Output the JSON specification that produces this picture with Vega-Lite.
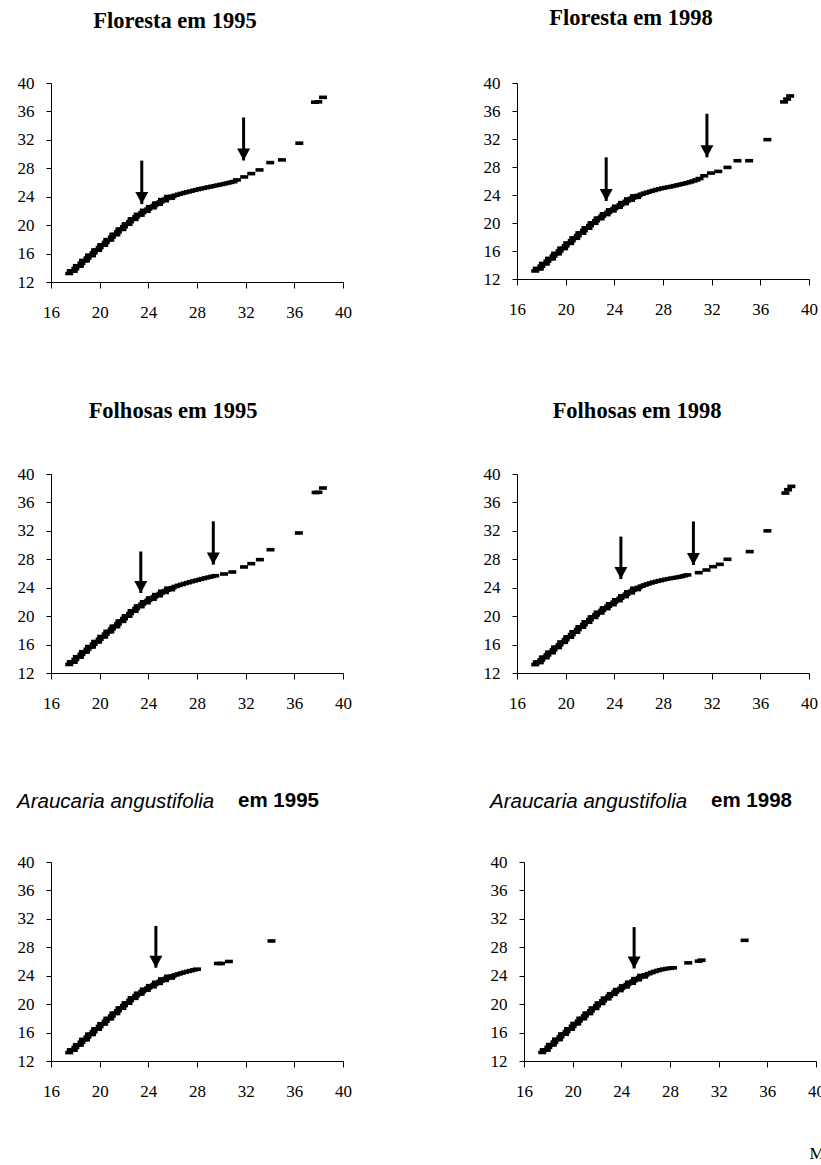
{
"$schema":"https://vega.github.io/schema/vega-lite/v6.json",
"background":"white",
"padding":{"left":17,"top":7,"right":0,"bottom":0},
"config":{
 "view":{"stroke":null},
 "axis":{"grid":false,"domainColor":"black","tickColor":"black","labelColor":"black","labelFont":"Liberation Serif","labelFontSize":17,"domainWidth":1,"tickWidth":1,"labelOverlap":false,"labelFlush":false},
 "axisX":{"tickSize":6,"labelPadding":16,"tickCount":10},
 "axisY":{"tickSize":5,"labelPadding":12,"tickCount":10},
 "title":{"font":"Liberation Serif","fontSize":22.5,"fontWeight":"bold","color":"black"}
},
"datasets":{
"arr":[
 {"p":1,"x":23.46,"y1":29.08,"y2":22.96},{"p":1,"x":31.83,"y1":35.15,"y2":29.1},
 {"p":2,"x":23.33,"y1":29.38,"y2":23.15},{"p":2,"x":31.61,"y1":35.6,"y2":29.38},
 {"p":3,"x":23.38,"y1":29.1,"y2":23.26},{"p":3,"x":29.34,"y1":33.34,"y2":27.25},
 {"p":4,"x":24.54,"y1":31.2,"y2":25.22},{"p":4,"x":30.5,"y1":33.32,"y2":27.2},
 {"p":5,"x":24.62,"y1":31.0,"y2":25.13},
 {"p":6,"x":25.05,"y1":30.84,"y2":25.02}
],
"pts":[
{"p":1,"x":17.5,"y":13.2},{"p":1,"x":17.75,"y":13.55},{"p":1,"x":18.0,"y":13.9},{"p":1,"x":18.25,"y":14.27},{"p":1,"x":18.5,"y":14.63},{"p":1,"x":18.75,"y":15.0},{"p":1,"x":19.0,"y":15.37},{"p":1,"x":19.25,"y":15.74},{"p":1,"x":19.5,"y":16.1},{"p":1,"x":19.75,"y":16.47},{"p":1,"x":20.0,"y":16.84},{"p":1,"x":20.25,"y":17.2},{"p":1,"x":20.5,"y":17.57},{"p":1,"x":20.75,"y":17.94},{"p":1,"x":21.0,"y":18.31},{"p":1,"x":21.25,"y":18.68},{"p":1,"x":21.5,"y":19.05},{"p":1,"x":21.75,"y":19.42},{"p":1,"x":22.0,"y":19.78},{"p":1,"x":22.25,"y":20.14},{"p":1,"x":22.5,"y":20.5},{"p":1,"x":22.75,"y":20.85},{"p":1,"x":23.0,"y":21.17},{"p":1,"x":23.25,"y":21.47},{"p":1,"x":23.5,"y":21.75},{"p":1,"x":23.75,"y":22.02},{"p":1,"x":24.0,"y":22.27},{"p":1,"x":24.25,"y":22.52},{"p":1,"x":24.5,"y":22.77},{"p":1,"x":24.75,"y":23.02},{"p":1,"x":25.0,"y":23.27},{"p":1,"x":25.25,"y":23.52},{"p":1,"x":25.5,"y":23.74},{"p":1,"x":25.75,"y":23.92},{"p":1,"x":26.0,"y":24.07},{"p":1,"x":26.25,"y":24.21},{"p":1,"x":26.5,"y":24.34},{"p":1,"x":26.75,"y":24.46},{"p":1,"x":27.0,"y":24.57},{"p":1,"x":27.25,"y":24.68},{"p":1,"x":27.5,"y":24.79},{"p":1,"x":27.75,"y":24.9},{"p":1,"x":28.0,"y":25.0},{"p":1,"x":28.25,"y":25.1},{"p":1,"x":28.5,"y":25.19},{"p":1,"x":28.75,"y":25.28},{"p":1,"x":29.0,"y":25.37},{"p":1,"x":29.25,"y":25.46},{"p":1,"x":29.5,"y":25.55},{"p":1,"x":29.75,"y":25.64},{"p":1,"x":30.0,"y":25.73},{"p":1,"x":30.25,"y":25.82},{"p":1,"x":30.5,"y":25.92},{"p":1,"x":30.75,"y":26.02},{"p":1,"x":31.0,"y":26.12},
{"p":1,"x":17.625,"y":13.58},{"p":1,"x":17.875,"y":13.53},{"p":1,"x":18.125,"y":14.29},{"p":1,"x":18.375,"y":14.25},{"p":1,"x":18.625,"y":15.02},{"p":1,"x":18.875,"y":14.99},{"p":1,"x":19.125,"y":15.76},{"p":1,"x":19.375,"y":15.72},{"p":1,"x":19.625,"y":16.49},{"p":1,"x":19.875,"y":16.46},{"p":1,"x":20.125,"y":17.22},{"p":1,"x":20.375,"y":17.19},{"p":1,"x":20.625,"y":17.96},{"p":1,"x":20.875,"y":17.93},{"p":1,"x":21.125,"y":18.7},{"p":1,"x":21.375,"y":18.67},{"p":1,"x":21.625,"y":19.44},{"p":1,"x":21.875,"y":19.4},{"p":1,"x":22.125,"y":20.16},{"p":1,"x":22.375,"y":20.12},{"p":1,"x":22.625,"y":20.88},{"p":1,"x":22.875,"y":20.81},{"p":1,"x":23.125,"y":21.52},{"p":1,"x":23.375,"y":21.41},{"p":1,"x":23.625,"y":22.09},{"p":1,"x":23.875,"y":21.95},{"p":1,"x":24.125,"y":22.6},{"p":1,"x":24.375,"y":22.45},{"p":1,"x":24.625,"y":23.1},{"p":1,"x":24.875,"y":22.95},{"p":1,"x":25.125,"y":23.6},{"p":1,"x":25.375,"y":23.43},{"p":1,"x":25.625,"y":24.03},{"p":1,"x":25.875,"y":23.8},
{"p":1,"x":31.28,"y":26.36},{"p":1,"x":31.88,"y":26.78},{"p":1,"x":32.46,"y":27.25},{"p":1,"x":33.14,"y":27.77},{"p":1,"x":34.02,"y":28.8},{"p":1,"x":34.98,"y":29.18},{"p":1,"x":36.41,"y":31.53},{"p":1,"x":37.7,"y":37.3},{"p":1,"x":37.97,"y":37.35},{"p":1,"x":38.36,"y":37.98},
{"p":2,"x":17.5,"y":13.15},{"p":2,"x":17.75,"y":13.47},{"p":2,"x":18.0,"y":13.83},{"p":2,"x":18.25,"y":14.19},{"p":2,"x":18.5,"y":14.55},{"p":2,"x":18.75,"y":14.91},{"p":2,"x":19.0,"y":15.27},{"p":2,"x":19.25,"y":15.63},{"p":2,"x":19.5,"y":16.0},{"p":2,"x":19.75,"y":16.37},{"p":2,"x":20.0,"y":16.74},{"p":2,"x":20.25,"y":17.11},{"p":2,"x":20.5,"y":17.47},{"p":2,"x":20.75,"y":17.84},{"p":2,"x":21.0,"y":18.2},{"p":2,"x":21.25,"y":18.56},{"p":2,"x":21.5,"y":18.92},{"p":2,"x":21.75,"y":19.28},{"p":2,"x":22.0,"y":19.63},{"p":2,"x":22.25,"y":19.98},{"p":2,"x":22.5,"y":20.33},{"p":2,"x":22.75,"y":20.66},{"p":2,"x":23.0,"y":20.97},{"p":2,"x":23.25,"y":21.26},{"p":2,"x":23.5,"y":21.53},{"p":2,"x":23.75,"y":21.8},{"p":2,"x":24.0,"y":22.06},{"p":2,"x":24.25,"y":22.32},{"p":2,"x":24.5,"y":22.58},{"p":2,"x":24.75,"y":22.84},{"p":2,"x":25.0,"y":23.1},{"p":2,"x":25.25,"y":23.36},{"p":2,"x":25.5,"y":23.58},{"p":2,"x":25.75,"y":23.77},{"p":2,"x":26.0,"y":23.95},{"p":2,"x":26.25,"y":24.11},{"p":2,"x":26.5,"y":24.26},{"p":2,"x":26.75,"y":24.4},{"p":2,"x":27.0,"y":24.53},{"p":2,"x":27.25,"y":24.65},{"p":2,"x":27.5,"y":24.78},{"p":2,"x":27.75,"y":24.89},{"p":2,"x":28.0,"y":24.99},{"p":2,"x":28.25,"y":25.07},{"p":2,"x":28.5,"y":25.15},{"p":2,"x":28.75,"y":25.24},{"p":2,"x":29.0,"y":25.34},{"p":2,"x":29.25,"y":25.44},{"p":2,"x":29.5,"y":25.54},{"p":2,"x":29.75,"y":25.64},{"p":2,"x":30.0,"y":25.75},{"p":2,"x":30.25,"y":25.87},{"p":2,"x":30.5,"y":26.0},{"p":2,"x":30.75,"y":26.15},{"p":2,"x":31.0,"y":26.35},
{"p":2,"x":17.625,"y":13.51},{"p":2,"x":17.875,"y":13.45},{"p":2,"x":18.125,"y":14.21},{"p":2,"x":18.375,"y":14.17},{"p":2,"x":18.625,"y":14.93},{"p":2,"x":18.875,"y":14.89},{"p":2,"x":19.125,"y":15.65},{"p":2,"x":19.375,"y":15.62},{"p":2,"x":19.625,"y":16.39},{"p":2,"x":19.875,"y":16.36},{"p":2,"x":20.125,"y":17.13},{"p":2,"x":20.375,"y":17.09},{"p":2,"x":20.625,"y":17.86},{"p":2,"x":20.875,"y":17.82},{"p":2,"x":21.125,"y":18.58},{"p":2,"x":21.375,"y":18.54},{"p":2,"x":21.625,"y":19.3},{"p":2,"x":21.875,"y":19.26},{"p":2,"x":22.125,"y":20.01},{"p":2,"x":22.375,"y":19.96},{"p":2,"x":22.625,"y":20.7},{"p":2,"x":22.875,"y":20.62},{"p":2,"x":23.125,"y":21.32},{"p":2,"x":23.375,"y":21.2},{"p":2,"x":23.625,"y":21.87},{"p":2,"x":23.875,"y":21.73},{"p":2,"x":24.125,"y":22.39},{"p":2,"x":24.375,"y":22.25},{"p":2,"x":24.625,"y":22.91},{"p":2,"x":24.875,"y":22.77},{"p":2,"x":25.125,"y":23.43},{"p":2,"x":25.375,"y":23.27},{"p":2,"x":25.625,"y":23.88},{"p":2,"x":25.875,"y":23.66},
{"p":2,"x":31.39,"y":26.74},{"p":2,"x":31.94,"y":27.13},{"p":2,"x":32.54,"y":27.37},{"p":2,"x":33.3,"y":27.94},{"p":2,"x":34.12,"y":28.9},{"p":2,"x":35.08,"y":28.9},{"p":2,"x":36.58,"y":31.91},{"p":2,"x":37.95,"y":37.3},{"p":2,"x":38.2,"y":37.7},{"p":2,"x":38.45,"y":38.15},
{"p":3,"x":17.5,"y":13.2},{"p":3,"x":17.75,"y":13.55},{"p":3,"x":18.0,"y":13.9},{"p":3,"x":18.25,"y":14.26},{"p":3,"x":18.5,"y":14.62},{"p":3,"x":18.75,"y":14.98},{"p":3,"x":19.0,"y":15.34},{"p":3,"x":19.25,"y":15.69},{"p":3,"x":19.5,"y":16.05},{"p":3,"x":19.75,"y":16.4},{"p":3,"x":20.0,"y":16.75},{"p":3,"x":20.25,"y":17.11},{"p":3,"x":20.5,"y":17.47},{"p":3,"x":20.75,"y":17.83},{"p":3,"x":21.0,"y":18.19},{"p":3,"x":21.25,"y":18.55},{"p":3,"x":21.5,"y":18.91},{"p":3,"x":21.75,"y":19.28},{"p":3,"x":22.0,"y":19.65},{"p":3,"x":22.25,"y":20.01},{"p":3,"x":22.5,"y":20.38},{"p":3,"x":22.75,"y":20.73},{"p":3,"x":23.0,"y":21.07},{"p":3,"x":23.25,"y":21.39},{"p":3,"x":23.5,"y":21.69},{"p":3,"x":23.75,"y":21.96},{"p":3,"x":24.0,"y":22.22},{"p":3,"x":24.25,"y":22.47},{"p":3,"x":24.5,"y":22.71},{"p":3,"x":24.75,"y":22.95},{"p":3,"x":25.0,"y":23.19},{"p":3,"x":25.25,"y":23.43},{"p":3,"x":25.5,"y":23.64},{"p":3,"x":25.75,"y":23.83},{"p":3,"x":26.0,"y":24.01},{"p":3,"x":26.25,"y":24.18},{"p":3,"x":26.5,"y":24.33},{"p":3,"x":26.75,"y":24.46},{"p":3,"x":27.0,"y":24.59},{"p":3,"x":27.25,"y":24.71},{"p":3,"x":27.5,"y":24.84},{"p":3,"x":27.75,"y":24.95},{"p":3,"x":28.0,"y":25.06},{"p":3,"x":28.25,"y":25.17},{"p":3,"x":28.5,"y":25.28},{"p":3,"x":28.75,"y":25.39},{"p":3,"x":29.0,"y":25.49},{"p":3,"x":29.25,"y":25.59},{"p":3,"x":29.5,"y":25.69},
{"p":3,"x":17.625,"y":13.58},{"p":3,"x":17.875,"y":13.53},{"p":3,"x":18.125,"y":14.28},{"p":3,"x":18.375,"y":14.24},{"p":3,"x":18.625,"y":15.0},{"p":3,"x":18.875,"y":14.96},{"p":3,"x":19.125,"y":15.72},{"p":3,"x":19.375,"y":15.67},{"p":3,"x":19.625,"y":16.43},{"p":3,"x":19.875,"y":16.38},{"p":3,"x":20.125,"y":17.13},{"p":3,"x":20.375,"y":17.09},{"p":3,"x":20.625,"y":17.85},{"p":3,"x":20.875,"y":17.81},{"p":3,"x":21.125,"y":18.57},{"p":3,"x":21.375,"y":18.53},{"p":3,"x":21.625,"y":19.3},{"p":3,"x":21.875,"y":19.27},{"p":3,"x":22.125,"y":20.03},{"p":3,"x":22.375,"y":20.0},{"p":3,"x":22.625,"y":20.76},{"p":3,"x":22.875,"y":20.7},{"p":3,"x":23.125,"y":21.43},{"p":3,"x":23.375,"y":21.34},{"p":3,"x":23.625,"y":22.03},{"p":3,"x":23.875,"y":21.89},{"p":3,"x":24.125,"y":22.55},{"p":3,"x":24.375,"y":22.39},{"p":3,"x":24.625,"y":23.03},{"p":3,"x":24.875,"y":22.87},{"p":3,"x":25.125,"y":23.51},{"p":3,"x":25.375,"y":23.34},{"p":3,"x":25.625,"y":23.94},{"p":3,"x":25.875,"y":23.72},
{"p":3,"x":30.22,"y":25.93},{"p":3,"x":30.9,"y":26.21},{"p":3,"x":31.86,"y":26.92},{"p":3,"x":32.46,"y":27.38},{"p":3,"x":33.17,"y":27.95},{"p":3,"x":34.04,"y":29.35},{"p":3,"x":36.37,"y":31.7},{"p":3,"x":37.75,"y":37.4},{"p":3,"x":37.98,"y":37.42},{"p":3,"x":38.35,"y":38.03},
{"p":4,"x":17.5,"y":13.18},{"p":4,"x":17.75,"y":13.5},{"p":4,"x":18.0,"y":13.84},{"p":4,"x":18.25,"y":14.19},{"p":4,"x":18.5,"y":14.54},{"p":4,"x":18.75,"y":14.89},{"p":4,"x":19.0,"y":15.25},{"p":4,"x":19.25,"y":15.61},{"p":4,"x":19.5,"y":15.97},{"p":4,"x":19.75,"y":16.33},{"p":4,"x":20.0,"y":16.69},{"p":4,"x":20.25,"y":17.05},{"p":4,"x":20.5,"y":17.41},{"p":4,"x":20.75,"y":17.77},{"p":4,"x":21.0,"y":18.12},{"p":4,"x":21.25,"y":18.47},{"p":4,"x":21.5,"y":18.82},{"p":4,"x":21.75,"y":19.17},{"p":4,"x":22.0,"y":19.51},{"p":4,"x":22.25,"y":19.85},{"p":4,"x":22.5,"y":20.18},{"p":4,"x":22.75,"y":20.5},{"p":4,"x":23.0,"y":20.81},{"p":4,"x":23.25,"y":21.11},{"p":4,"x":23.5,"y":21.4},{"p":4,"x":23.75,"y":21.68},{"p":4,"x":24.0,"y":21.96},{"p":4,"x":24.25,"y":22.24},{"p":4,"x":24.5,"y":22.52},{"p":4,"x":24.75,"y":22.8},{"p":4,"x":25.0,"y":23.08},{"p":4,"x":25.25,"y":23.35},{"p":4,"x":25.5,"y":23.61},{"p":4,"x":25.75,"y":23.84},{"p":4,"x":26.0,"y":24.04},{"p":4,"x":26.25,"y":24.22},{"p":4,"x":26.5,"y":24.38},{"p":4,"x":26.75,"y":24.53},{"p":4,"x":27.0,"y":24.67},{"p":4,"x":27.25,"y":24.79},{"p":4,"x":27.5,"y":24.9},{"p":4,"x":27.75,"y":25.0},{"p":4,"x":28.0,"y":25.1},{"p":4,"x":28.25,"y":25.19},{"p":4,"x":28.5,"y":25.27},{"p":4,"x":28.75,"y":25.35},{"p":4,"x":29.0,"y":25.42},{"p":4,"x":29.25,"y":25.49},{"p":4,"x":29.5,"y":25.58},{"p":4,"x":29.75,"y":25.69},{"p":4,"x":30.0,"y":25.8},
{"p":4,"x":17.625,"y":13.54},{"p":4,"x":17.875,"y":13.47},{"p":4,"x":18.125,"y":14.22},{"p":4,"x":18.375,"y":14.17},{"p":4,"x":18.625,"y":14.92},{"p":4,"x":18.875,"y":14.87},{"p":4,"x":19.125,"y":15.63},{"p":4,"x":19.375,"y":15.59},{"p":4,"x":19.625,"y":16.35},{"p":4,"x":19.875,"y":16.31},{"p":4,"x":20.125,"y":17.07},{"p":4,"x":20.375,"y":17.03},{"p":4,"x":20.625,"y":17.79},{"p":4,"x":20.875,"y":17.75},{"p":4,"x":21.125,"y":18.5},{"p":4,"x":21.375,"y":18.45},{"p":4,"x":21.625,"y":19.2},{"p":4,"x":21.875,"y":19.14},{"p":4,"x":22.125,"y":19.88},{"p":4,"x":22.375,"y":19.82},{"p":4,"x":22.625,"y":20.54},{"p":4,"x":22.875,"y":20.46},{"p":4,"x":23.125,"y":21.16},{"p":4,"x":23.375,"y":21.06},{"p":4,"x":23.625,"y":21.74},{"p":4,"x":23.875,"y":21.62},{"p":4,"x":24.125,"y":22.3},{"p":4,"x":24.375,"y":22.18},{"p":4,"x":24.625,"y":22.86},{"p":4,"x":24.875,"y":22.74},{"p":4,"x":25.125,"y":23.42},{"p":4,"x":25.375,"y":23.28},{"p":4,"x":25.625,"y":23.93},{"p":4,"x":25.875,"y":23.74},
{"p":4,"x":30.94,"y":26.12},{"p":4,"x":31.57,"y":26.49},{"p":4,"x":32.12,"y":26.96},{"p":4,"x":32.67,"y":27.29},{"p":4,"x":33.3,"y":28.0},{"p":4,"x":35.13,"y":29.08},{"p":4,"x":36.58,"y":32.0},{"p":4,"x":38.06,"y":37.32},{"p":4,"x":38.28,"y":37.79},{"p":4,"x":38.55,"y":38.26},
{"p":5,"x":17.5,"y":13.18},{"p":5,"x":17.75,"y":13.53},{"p":5,"x":18.0,"y":13.9},{"p":5,"x":18.25,"y":14.27},{"p":5,"x":18.5,"y":14.64},{"p":5,"x":18.75,"y":15.01},{"p":5,"x":19.0,"y":15.38},{"p":5,"x":19.25,"y":15.75},{"p":5,"x":19.5,"y":16.12},{"p":5,"x":19.75,"y":16.49},{"p":5,"x":20.0,"y":16.86},{"p":5,"x":20.25,"y":17.23},{"p":5,"x":20.5,"y":17.6},{"p":5,"x":20.75,"y":17.97},{"p":5,"x":21.0,"y":18.33},{"p":5,"x":21.25,"y":18.7},{"p":5,"x":21.5,"y":19.07},{"p":5,"x":21.75,"y":19.43},{"p":5,"x":22.0,"y":19.8},{"p":5,"x":22.25,"y":20.16},{"p":5,"x":22.5,"y":20.52},{"p":5,"x":22.75,"y":20.86},{"p":5,"x":23.0,"y":21.18},{"p":5,"x":23.25,"y":21.48},{"p":5,"x":23.5,"y":21.77},{"p":5,"x":23.75,"y":22.03},{"p":5,"x":24.0,"y":22.28},{"p":5,"x":24.25,"y":22.52},{"p":5,"x":24.5,"y":22.76},{"p":5,"x":24.75,"y":23.0},{"p":5,"x":25.0,"y":23.23},{"p":5,"x":25.25,"y":23.44},{"p":5,"x":25.5,"y":23.63},{"p":5,"x":25.75,"y":23.8},{"p":5,"x":26.0,"y":23.96},{"p":5,"x":26.25,"y":24.11},{"p":5,"x":26.5,"y":24.25},{"p":5,"x":26.75,"y":24.38},{"p":5,"x":27.0,"y":24.5},{"p":5,"x":27.25,"y":24.61},{"p":5,"x":27.5,"y":24.72},{"p":5,"x":27.75,"y":24.82},{"p":5,"x":28.0,"y":24.92},
{"p":5,"x":17.625,"y":13.56},{"p":5,"x":17.875,"y":13.52},{"p":5,"x":18.125,"y":14.29},{"p":5,"x":18.375,"y":14.26},{"p":5,"x":18.625,"y":15.03},{"p":5,"x":18.875,"y":15.0},{"p":5,"x":19.125,"y":15.77},{"p":5,"x":19.375,"y":15.74},{"p":5,"x":19.625,"y":16.51},{"p":5,"x":19.875,"y":16.48},{"p":5,"x":20.125,"y":17.25},{"p":5,"x":20.375,"y":17.22},{"p":5,"x":20.625,"y":17.99},{"p":5,"x":20.875,"y":17.95},{"p":5,"x":21.125,"y":18.72},{"p":5,"x":21.375,"y":18.69},{"p":5,"x":21.625,"y":19.45},{"p":5,"x":21.875,"y":19.42},{"p":5,"x":22.125,"y":20.18},{"p":5,"x":22.375,"y":20.14},{"p":5,"x":22.625,"y":20.89},{"p":5,"x":22.875,"y":20.82},{"p":5,"x":23.125,"y":21.53},{"p":5,"x":23.375,"y":21.43},{"p":5,"x":23.625,"y":22.1},{"p":5,"x":23.875,"y":21.96},{"p":5,"x":24.125,"y":22.6},{"p":5,"x":24.375,"y":22.44},{"p":5,"x":24.625,"y":23.08},{"p":5,"x":24.875,"y":22.92},{"p":5,"x":25.125,"y":23.54},{"p":5,"x":25.375,"y":23.34},{"p":5,"x":25.625,"y":23.92},{"p":5,"x":25.875,"y":23.68},
{"p":5,"x":29.72,"y":25.72},{"p":5,"x":29.97,"y":25.72},{"p":5,"x":30.62,"y":26.0},{"p":5,"x":34.12,"y":28.89},
{"p":6,"x":17.5,"y":13.2},{"p":6,"x":17.75,"y":13.55},{"p":6,"x":18.0,"y":13.92},{"p":6,"x":18.25,"y":14.29},{"p":6,"x":18.5,"y":14.66},{"p":6,"x":18.75,"y":15.03},{"p":6,"x":19.0,"y":15.4},{"p":6,"x":19.25,"y":15.77},{"p":6,"x":19.5,"y":16.14},{"p":6,"x":19.75,"y":16.51},{"p":6,"x":20.0,"y":16.88},{"p":6,"x":20.25,"y":17.25},{"p":6,"x":20.5,"y":17.62},{"p":6,"x":20.75,"y":17.98},{"p":6,"x":21.0,"y":18.34},{"p":6,"x":21.25,"y":18.7},{"p":6,"x":21.5,"y":19.06},{"p":6,"x":21.75,"y":19.42},{"p":6,"x":22.0,"y":19.77},{"p":6,"x":22.25,"y":20.12},{"p":6,"x":22.5,"y":20.47},{"p":6,"x":22.75,"y":20.8},{"p":6,"x":23.0,"y":21.12},{"p":6,"x":23.25,"y":21.42},{"p":6,"x":23.5,"y":21.71},{"p":6,"x":23.75,"y":21.98},{"p":6,"x":24.0,"y":22.24},{"p":6,"x":24.25,"y":22.5},{"p":6,"x":24.5,"y":22.76},{"p":6,"x":24.75,"y":23.02},{"p":6,"x":25.0,"y":23.27},{"p":6,"x":25.25,"y":23.51},{"p":6,"x":25.5,"y":23.74},{"p":6,"x":25.75,"y":23.94},{"p":6,"x":26.0,"y":24.12},{"p":6,"x":26.25,"y":24.29},{"p":6,"x":26.5,"y":24.45},{"p":6,"x":26.75,"y":24.6},{"p":6,"x":27.0,"y":24.73},{"p":6,"x":27.25,"y":24.84},{"p":6,"x":27.5,"y":24.93},{"p":6,"x":27.75,"y":25.0},{"p":6,"x":28.0,"y":25.06},{"p":6,"x":28.25,"y":25.11},
{"p":6,"x":17.625,"y":13.58},{"p":6,"x":17.875,"y":13.54},{"p":6,"x":18.125,"y":14.31},{"p":6,"x":18.375,"y":14.28},{"p":6,"x":18.625,"y":15.05},{"p":6,"x":18.875,"y":15.02},{"p":6,"x":19.125,"y":15.79},{"p":6,"x":19.375,"y":15.76},{"p":6,"x":19.625,"y":16.53},{"p":6,"x":19.875,"y":16.5},{"p":6,"x":20.125,"y":17.27},{"p":6,"x":20.375,"y":17.24},{"p":6,"x":20.625,"y":18.0},{"p":6,"x":20.875,"y":17.96},{"p":6,"x":21.125,"y":18.72},{"p":6,"x":21.375,"y":18.68},{"p":6,"x":21.625,"y":19.44},{"p":6,"x":21.875,"y":19.4},{"p":6,"x":22.125,"y":20.15},{"p":6,"x":22.375,"y":20.1},{"p":6,"x":22.625,"y":20.84},{"p":6,"x":22.875,"y":20.76},{"p":6,"x":23.125,"y":21.47},{"p":6,"x":23.375,"y":21.37},{"p":6,"x":23.625,"y":22.05},{"p":6,"x":23.875,"y":21.91},{"p":6,"x":24.125,"y":22.57},{"p":6,"x":24.375,"y":22.43},{"p":6,"x":24.625,"y":23.09},{"p":6,"x":24.875,"y":22.95},{"p":6,"x":25.125,"y":23.59},{"p":6,"x":25.375,"y":23.43},{"p":6,"x":25.625,"y":24.04},{"p":6,"x":25.875,"y":23.83},
{"p":6,"x":29.5,"y":25.81},{"p":6,"x":30.36,"y":26.05},{"p":6,"x":30.6,"y":26.19},{"p":6,"x":34.13,"y":28.98}
]
},
"spacing":80,
"title":{"text":"M","orient":"bottom","anchor":"end","frame":"bounds","font":"Liberation Serif","fontSize":17,"fontWeight":"normal","offset":47},
"vconcat":[
{"spacing":131,"hconcat":[
 {"width":292,"height":199,"title":{"text":"Floresta em 1995","offset":41.5,"dx":-22},
  "layer":[
   {"data":{"name":"pts"},"transform":[{"filter":"datum.p==1"}],"mark":{"type":"point","shape":"M-1,-0.45L1,-0.45L1,0.45L-1,0.45Z","filled":true,"color":"black","opacity":1,"size":64,"strokeWidth":0},
    "encoding":{"x":{"field":"x","type":"quantitative","scale":{"domain":[16,40],"nice":false,"zero":false},"axis":{"values":[16,20,24,28,32,36,40],"tickCount":10,"title":null}},"y":{"field":"y","type":"quantitative","scale":{"domain":[12,40],"nice":false,"zero":false},"axis":{"values":[12,16,20,24,28,32,36,40],"tickCount":10,"title":null}}}},
   {"data":{"name":"arr"},"transform":[{"filter":"datum.p==1"}],"mark":{"type":"rule","strokeWidth":3,"color":"black"},
    "encoding":{"x":{"field":"x","type":"quantitative","title":null},"y":{"field":"y1","type":"quantitative","title":null},"y2":{"field":"y2"}}},
   {"data":{"name":"arr"},"transform":[{"filter":"datum.p==1"}],"mark":{"type":"point","shape":"M-1,-1.85L1,-1.85L0,0Z","filled":true,"color":"black","opacity":1,"size":169,"strokeWidth":0},
    "encoding":{"x":{"field":"x","type":"quantitative","title":null},"y":{"field":"y2","type":"quantitative","title":null}}}
  ]},
 {"width":292,"height":196,"title":{"text":"Floresta em 1998","offset":44.5,"dx":-32},
  "layer":[
   {"data":{"name":"pts"},"transform":[{"filter":"datum.p==2"}],"mark":{"type":"point","shape":"M-1,-0.45L1,-0.45L1,0.45L-1,0.45Z","filled":true,"color":"black","opacity":1,"size":64,"strokeWidth":0},
    "encoding":{"x":{"field":"x","type":"quantitative","scale":{"domain":[16,40],"nice":false,"zero":false},"axis":{"values":[16,20,24,28,32,36,40],"tickCount":10,"title":null}},"y":{"field":"y","type":"quantitative","scale":{"domain":[12,40],"nice":false,"zero":false},"axis":{"values":[12,16,20,24,28,32,36,40],"tickCount":10,"title":null}}}},
   {"data":{"name":"arr"},"transform":[{"filter":"datum.p==2"}],"mark":{"type":"rule","strokeWidth":3,"color":"black"},
    "encoding":{"x":{"field":"x","type":"quantitative","title":null},"y":{"field":"y1","type":"quantitative","title":null},"y2":{"field":"y2"}}},
   {"data":{"name":"arr"},"transform":[{"filter":"datum.p==2"}],"mark":{"type":"point","shape":"M-1,-1.85L1,-1.85L0,0Z","filled":true,"color":"black","opacity":1,"size":169,"strokeWidth":0},
    "encoding":{"x":{"field":"x","type":"quantitative","title":null},"y":{"field":"y2","type":"quantitative","title":null}}}
  ]}
]},
{"spacing":131,"hconcat":[
 {"width":292,"height":199,"title":{"text":"Folhosas em 1995","offset":42.5,"dx":-24},
  "layer":[
   {"data":{"name":"pts"},"transform":[{"filter":"datum.p==3"}],"mark":{"type":"point","shape":"M-1,-0.45L1,-0.45L1,0.45L-1,0.45Z","filled":true,"color":"black","opacity":1,"size":64,"strokeWidth":0},
    "encoding":{"x":{"field":"x","type":"quantitative","scale":{"domain":[16,40],"nice":false,"zero":false},"axis":{"values":[16,20,24,28,32,36,40],"tickCount":10,"title":null}},"y":{"field":"y","type":"quantitative","scale":{"domain":[12,40],"nice":false,"zero":false},"axis":{"values":[12,16,20,24,28,32,36,40],"tickCount":10,"title":null}}}},
   {"data":{"name":"arr"},"transform":[{"filter":"datum.p==3"}],"mark":{"type":"rule","strokeWidth":3,"color":"black"},
    "encoding":{"x":{"field":"x","type":"quantitative","title":null},"y":{"field":"y1","type":"quantitative","title":null},"y2":{"field":"y2"}}},
   {"data":{"name":"arr"},"transform":[{"filter":"datum.p==3"}],"mark":{"type":"point","shape":"M-1,-1.85L1,-1.85L0,0Z","filled":true,"color":"black","opacity":1,"size":169,"strokeWidth":0},
    "encoding":{"x":{"field":"x","type":"quantitative","title":null},"y":{"field":"y2","type":"quantitative","title":null}}}
  ]},
 {"width":292,"height":199,"title":{"text":"Folhosas em 1998","offset":42.5,"dx":-26},
  "layer":[
   {"data":{"name":"pts"},"transform":[{"filter":"datum.p==4"}],"mark":{"type":"point","shape":"M-1,-0.45L1,-0.45L1,0.45L-1,0.45Z","filled":true,"color":"black","opacity":1,"size":64,"strokeWidth":0},
    "encoding":{"x":{"field":"x","type":"quantitative","scale":{"domain":[16,40],"nice":false,"zero":false},"axis":{"values":[16,20,24,28,32,36,40],"tickCount":10,"title":null}},"y":{"field":"y","type":"quantitative","scale":{"domain":[12,40],"nice":false,"zero":false},"axis":{"values":[12,16,20,24,28,32,36,40],"tickCount":10,"title":null}}}},
   {"data":{"name":"arr"},"transform":[{"filter":"datum.p==4"}],"mark":{"type":"rule","strokeWidth":3,"color":"black"},
    "encoding":{"x":{"field":"x","type":"quantitative","title":null},"y":{"field":"y1","type":"quantitative","title":null},"y2":{"field":"y2"}}},
   {"data":{"name":"arr"},"transform":[{"filter":"datum.p==4"}],"mark":{"type":"point","shape":"M-1,-1.85L1,-1.85L0,0Z","filled":true,"color":"black","opacity":1,"size":169,"strokeWidth":0},
    "encoding":{"x":{"field":"x","type":"quantitative","title":null},"y":{"field":"y2","type":"quantitative","title":null}}}
  ]}
]},
{"spacing":138,"hconcat":[
 {"title":{"text":"Araucaria angustifolia","anchor":"start","frame":"bounds","font":"Liberation Sans","fontStyle":"italic","fontWeight":"normal","fontSize":20.5,"offset":0,"dy":21},
  "hconcat":[
 {"width":292,"height":199,"title":{"text":"em 1995","anchor":"start","frame":"group","font":"Liberation Sans","fontWeight":"bold","fontSize":20.5,"offset":41.5,"dx":187},
  "layer":[
   {"data":{"name":"pts"},"transform":[{"filter":"datum.p==5"}],"mark":{"type":"point","shape":"M-1,-0.45L1,-0.45L1,0.45L-1,0.45Z","filled":true,"color":"black","opacity":1,"size":64,"strokeWidth":0},
    "encoding":{"x":{"field":"x","type":"quantitative","scale":{"domain":[16,40],"nice":false,"zero":false},"axis":{"values":[16,20,24,28,32,36,40],"tickCount":10,"title":null}},"y":{"field":"y","type":"quantitative","scale":{"domain":[12,40],"nice":false,"zero":false},"axis":{"values":[12,16,20,24,28,32,36,40],"tickCount":10,"title":null}}}},
   {"data":{"name":"arr"},"transform":[{"filter":"datum.p==5"}],"mark":{"type":"rule","strokeWidth":3,"color":"black"},
    "encoding":{"x":{"field":"x","type":"quantitative","title":null},"y":{"field":"y1","type":"quantitative","title":null},"y2":{"field":"y2"}}},
   {"data":{"name":"arr"},"transform":[{"filter":"datum.p==5"}],"mark":{"type":"point","shape":"M-1,-1.85L1,-1.85L0,0Z","filled":true,"color":"black","opacity":1,"size":169,"strokeWidth":0},
    "encoding":{"x":{"field":"x","type":"quantitative","title":null},"y":{"field":"y2","type":"quantitative","title":null}}}
  ]}]},
 {"title":{"text":"Araucaria angustifolia","anchor":"start","frame":"bounds","font":"Liberation Sans","fontStyle":"italic","fontWeight":"normal","fontSize":20.5,"offset":0,"dy":21},
  "hconcat":[
 {"width":292,"height":199,"title":{"text":"em 1998","anchor":"start","frame":"group","font":"Liberation Sans","fontWeight":"bold","fontSize":20.5,"offset":41.5,"dx":187},
  "layer":[
   {"data":{"name":"pts"},"transform":[{"filter":"datum.p==6"}],"mark":{"type":"point","shape":"M-1,-0.45L1,-0.45L1,0.45L-1,0.45Z","filled":true,"color":"black","opacity":1,"size":64,"strokeWidth":0},
    "encoding":{"x":{"field":"x","type":"quantitative","scale":{"domain":[16,40],"nice":false,"zero":false},"axis":{"values":[16,20,24,28,32,36,40],"tickCount":10,"title":null}},"y":{"field":"y","type":"quantitative","scale":{"domain":[12,40],"nice":false,"zero":false},"axis":{"values":[12,16,20,24,28,32,36,40],"tickCount":10,"title":null}}}},
   {"data":{"name":"arr"},"transform":[{"filter":"datum.p==6"}],"mark":{"type":"rule","strokeWidth":3,"color":"black"},
    "encoding":{"x":{"field":"x","type":"quantitative","title":null},"y":{"field":"y1","type":"quantitative","title":null},"y2":{"field":"y2"}}},
   {"data":{"name":"arr"},"transform":[{"filter":"datum.p==6"}],"mark":{"type":"point","shape":"M-1,-1.85L1,-1.85L0,0Z","filled":true,"color":"black","opacity":1,"size":169,"strokeWidth":0},
    "encoding":{"x":{"field":"x","type":"quantitative","title":null},"y":{"field":"y2","type":"quantitative","title":null}}}
  ]}]}
]}
]
}
